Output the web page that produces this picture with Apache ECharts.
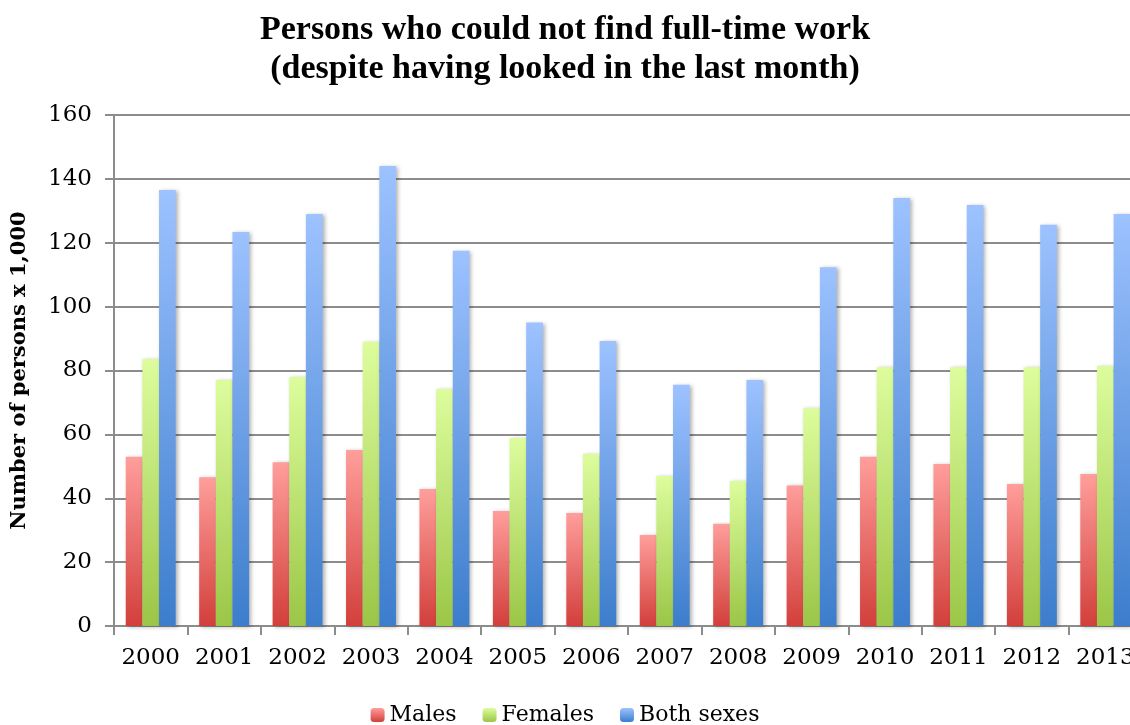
<!DOCTYPE html>
<html>
<head>
<meta charset="utf-8">
<script src="https://cdn.jsdelivr.net/npm/echarts@6/dist/echarts.min.js"></script>
<style>
  html, body { margin: 0; padding: 0; background: #fff; }
  #main { width: 1130px; height: 725px; }
</style>
</head>
<body>
<div id="main"></div>
<script>
var years = ['2000', '2001', '2002', '2003', '2004', '2005', '2006', '2007', '2008', '2009', '2010', '2011', '2012', '2013'];
var males = [53, 46.6, 51.3, 55.1, 42.9, 36, 35.4, 28.5, 32, 44, 53, 50.7, 44.5, 47.6];
var females = [83.6, 77, 78, 89, 74.2, 58.9, 53.9, 47, 45.4, 68.2, 81, 81, 81, 81.4];
var both = [136.5, 123.4, 129, 144, 117.5, 95, 89.2, 75.5, 77, 112.3, 134, 131.8, 125.6, 129];

var serif = '"DejaVu Serif", "Liberation Serif", serif';
var titleFont = '"Liberation Serif", serif';

function grad(top, bottom) {
    return new echarts.graphic.LinearGradient(0, 0, 0, 1, [
        {offset: 0, color: top},
        {offset: 1, color: bottom}
    ]);
}

function barSeries(name, data, top, bottom) {
    return {
        name: name,
        type: 'bar',
        data: data,
        barGap: '0%',
        barCategoryGap: '32%',
        itemStyle: {
            color: grad(top, bottom),
            shadowColor: 'rgba(0,0,0,0.3)',
            shadowBlur: 4,
            shadowOffsetX: 2,
            shadowOffsetY: 1
        }
    };
}

var myChart = echarts.init(document.getElementById('main'));
var option = {
    animation: false,
    title: {
        text: 'Persons who could not find full-time work\n(despite having looked in the last month)',
        left: 'center',
        top: 6,
        textStyle: {
            fontFamily: titleFont,
            fontWeight: 'bold',
            fontSize: 34,
            lineHeight: 39,
            color: '#000'
        }
    },
    legend: {
        top: 699,
        left: 'center',
        itemWidth: 14,
        itemHeight: 14,
        itemGap: 26,
        textStyle: { fontFamily: serif, fontSize: 22, color: '#000' },
        data: ['Males', 'Females', 'Both sexes']
    },
    grid: {
        left: 114,
        right: -12,
        top: 115,
        bottom: 99,
        outerBoundsMode: 'none'
    },
    xAxis: {
        type: 'category',
        data: years,
        axisLine: { lineStyle: { color: '#8c8c8c', width: 2 } },
        axisTick: { show: true, interval: 0, length: 9, lineStyle: { color: '#8c8c8c', width: 2 } },
        axisLabel: { interval: 0, hideOverlap: false, fontFamily: serif, fontSize: 23, color: '#000', margin: 21 }
    },
    yAxis: {
        type: 'value',
        min: 0,
        max: 160,
        interval: 20,
        name: 'Number of persons x 1,000',
        nameLocation: 'middle',
        nameGap: 84,
        nameTextStyle: { fontFamily: serif, fontWeight: 'bold', fontSize: 21, color: '#000' },
        axisLine: { show: true, lineStyle: { color: '#8c8c8c', width: 2 } },
        axisTick: { show: true, length: 9, lineStyle: { color: '#8c8c8c', width: 2 } },
        axisLabel: { fontFamily: serif, fontSize: 23, color: '#000', margin: 22 },
        splitLine: { lineStyle: { color: '#8c8c8c', width: 2 } }
    },
    series: [
        barSeries('Males', males, '#ff9e9b', '#d23f3b'),
        barSeries('Females', females, '#ddfd9d', '#9bc647'),
        barSeries('Both sexes', both, '#9dc2ff', '#3c7dcc')
    ]
};
myChart.setOption(option);
</script>
</body>
</html>
